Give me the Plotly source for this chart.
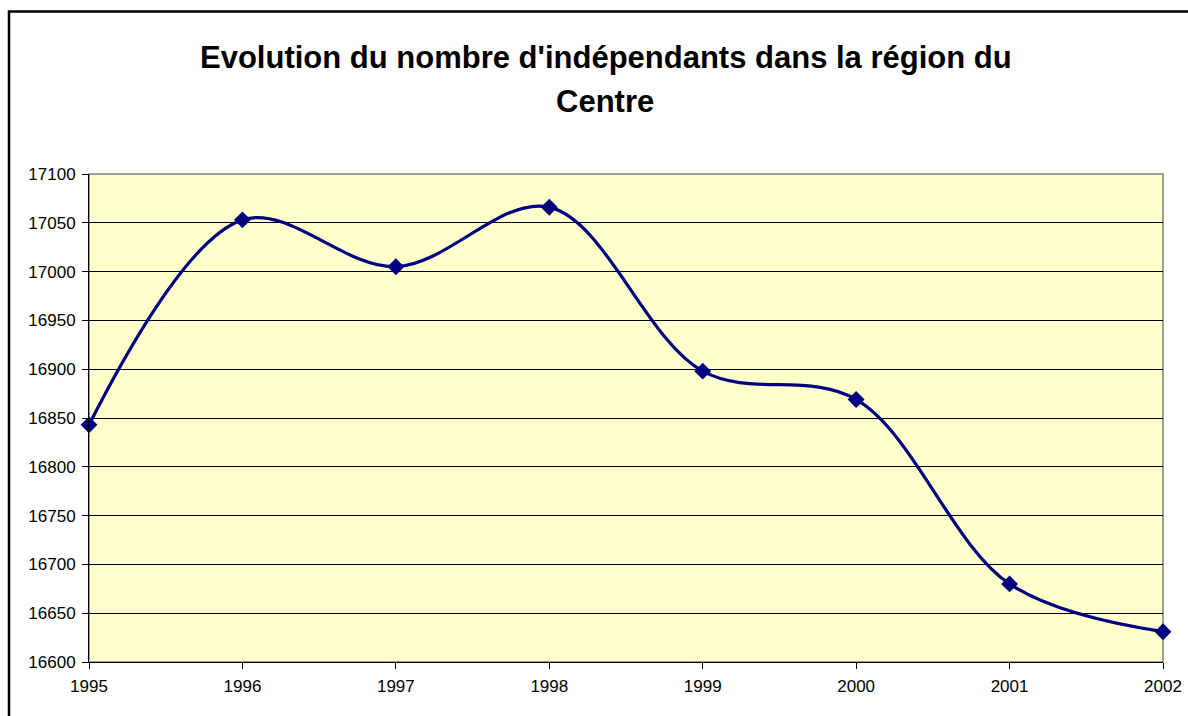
import plotly.graph_objects as go

years = [1995, 1996, 1997, 1998, 1999, 2000, 2001, 2002]
independants = [16843, 17053, 17005, 17066, 16898, 16869, 16680, 16631]
y_ticks = [16600, 16650, 16700, 16750, 16800, 16850, 16900, 16950, 17000, 17050, 17100]

title_line1 = "Evolution du nombre d'indépendants dans la région du"
title_line2 = "Centre"

FONT = "Liberation Sans, Arial, sans-serif"

fig = go.Figure()
fig.add_trace(go.Scatter(
    x=years, y=independants,
    mode="lines+markers",
    line=dict(color="#000080", width=3.2, shape="spline", smoothing=1),
    marker=dict(symbol="diamond", size=13, color="#000080"),
    cliponaxis=False,
    showlegend=False,
))

L, R, T, B = 89, 25, 174, 54
W, H = 1188, 716
pw, ph = W - L - R, H - T - B

def px_x(p):
    return (p - L) / pw

def px_y(p):
    return 1 + (T - p) / ph

fig.update_layout(
    width=W, height=H, autosize=False,
    margin=dict(l=L, r=R, t=T, b=B, autoexpand=False),
    paper_bgcolor="white",
    plot_bgcolor="#FFFFCC",
    font=dict(family=FONT, size=17, color="black"),
    xaxis=dict(
        range=[1995, 2002], tickvals=years, ticktext=[str(y) for y in years],
        showgrid=False, zeroline=False, automargin=False,
        showline=True, linecolor="black", linewidth=1,
        ticks="outside", ticklen=6, tickcolor="black", tickwidth=1,
        ticklabelstandoff=3,
        tickfont=dict(size=17, family=FONT),
    ),
    yaxis=dict(
        range=[16600, 17100], tickvals=y_ticks, ticktext=[str(v) for v in y_ticks],
        showgrid=True, gridcolor="black", gridwidth=1, zeroline=False, automargin=False,
        showline=True, linecolor="black", linewidth=1,
        ticks="outside", ticklen=6, tickcolor="black", tickwidth=1,
        ticklabelstandoff=3,
        tickfont=dict(size=17, family=FONT),
    ),
    shapes=[
        dict(type="rect", xref="paper", yref="paper", x0=0, x1=1, y0=0, y1=1,
             line=dict(color="#808080", width=1.5), layer="below"),
        dict(type="rect", xref="paper", yref="paper",
             x0=px_x(9), x1=1.2, y0=-0.3, y1=px_y(11.5),
             line=dict(color="black", width=2.5)),
    ],
    annotations=[
        dict(text="<b>" + title_line1 + "</b>", xref="paper", yref="paper",
             x=px_x(606), y=px_y(57), xanchor="center", yanchor="middle",
             showarrow=False, font=dict(size=31, family=FONT, color="black")),
        dict(text="<b>" + title_line2 + "</b>", xref="paper", yref="paper",
             x=px_x(605), y=px_y(101), xanchor="center", yanchor="middle",
             showarrow=False, font=dict(size=31, family=FONT, color="black")),
    ],
)

fig.write_html(
    "out.html",
    config={"displayModeBar": False, "responsive": False},
    post_script="document.body.style.margin='0';document.body.style.overflow='hidden';",
)
